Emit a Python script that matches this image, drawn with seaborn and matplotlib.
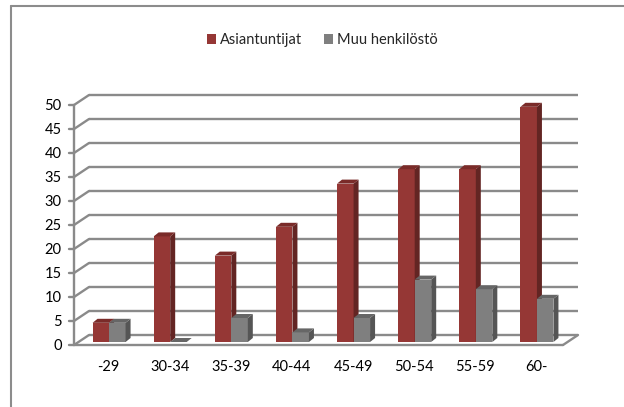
import matplotlib
matplotlib.use("Agg")
import matplotlib.pyplot as plt
import matplotlib.transforms as mtransforms
from matplotlib.patches import Polygon, Rectangle
import seaborn as sns
import pandas as pd

# Age groups and headcounts per staff group
age_groups = ["-29", "30-34", "35-39", "40-44", "45-49", "50-54", "55-59", "60-"]
asiantuntijat = [4, 22, 18, 24, 33, 36, 36, 49]
muu_henkilosto = [4, 0, 5, 2, 5, 13, 11, 9]
series_names = ["Asiantuntijat", "Muu henkilöstö"]
y_ticks = list(range(0, 55, 5))

front_colors = ["#953735", "#7f7f7f"]
side_colors = ["#632523", "#555555"]
top_colors = ["#7a2b29", "#666666"]
grid_color = "#8a8a8a"

df = pd.DataFrame({
    "Ikä": age_groups * 2,
    "Määrä": asiantuntijat + muu_henkilosto,
    "Ryhmä": [series_names[0]] * len(age_groups) + [series_names[1]] * len(age_groups),
})

sns.set_theme(style="white")
plt.rcParams["font.family"] = ["Lato", "DejaVu Sans"]

W, H, DPI = 624, 407, 100
fig = plt.figure(figsize=(W / DPI, H / DPI), dpi=DPI)

# front plane of the plot box, in pixels
left_px, right_px = 74, 563
bottom_px, top_px = 345, 105
ax = fig.add_axes([left_px / W, (H - bottom_px) / H,
                   (right_px - left_px) / W, (bottom_px - top_px) / H])

sns.barplot(data=df, x="Ikä", y="Määrä", hue="Ryhmä", order=age_groups,
            hue_order=series_names, palette=front_colors, saturation=1,
            width=0.54, gap=0, edgecolor="none", linewidth=0,
            legend=False, ax=ax, zorder=3)

ax.set_xlim(-0.5, len(age_groups) - 0.5)
ax.set_ylim(0, 50)
for s in ax.spines.values():
    s.set_visible(False)
ax.set_xlabel("")
ax.set_ylabel("")
ax.grid(False)

# pixel -> data scale
px_x = (len(age_groups)) / (right_px - left_px)
px_y = 50 / (bottom_px - top_px)

# depth of the box (back wall offset) and of the bars
wall_dx, wall_dy = 15 * px_x, 10 * px_y
bar_shift_dx, bar_shift_dy = 4.5 * px_x, 3 * px_y
bar_dx, bar_dy = 5 * px_x, 4 * px_y

x0, x1 = -0.5, len(age_groups) - 0.5
lw = 1.7
# back wall gridlines and left side wall
for v in y_ticks:
    ax.plot([x0 + wall_dx, x1 + wall_dx], [v + wall_dy, v + wall_dy],
            color=grid_color, lw=lw, clip_on=False, zorder=1, solid_capstyle="butt")
    ax.plot([x0, x0 + wall_dx], [v, v + wall_dy],
            color=grid_color, lw=lw, clip_on=False, zorder=1)
    ax.plot([x0 - 5 * px_x, x0], [v, v], color=grid_color, lw=lw,
            clip_on=False, zorder=1)
# front value axis and floor outline
ax.plot([x0, x0], [0, 50], color=grid_color, lw=lw, clip_on=False, zorder=1)
ax.plot([x0, x1], [0, 0], color=grid_color, lw=lw, clip_on=False, zorder=2)
ax.plot([x1, x1 + wall_dx], [0, wall_dy], color=grid_color, lw=lw,
        clip_on=False, zorder=2)

# extrude the bars into pseudo 3D columns
for k, cont in enumerate(ax.containers):
    for p in cont.patches:
        x = p.get_x() + bar_shift_dx
        w = p.get_width()
        h = p.get_height()
        b = bar_shift_dy
        p.set_x(x)
        p.set_y(b)
        z = 4 + k
        p.set_zorder(z)
        side = Polygon([(x + w, b), (x + w + bar_dx, b + bar_dy),
                        (x + w + bar_dx, b + h + bar_dy), (x + w, b + h)],
                       closed=True, facecolor=side_colors[k], edgecolor="none",
                       zorder=z, clip_on=False)
        top = Polygon([(x, b + h), (x + bar_dx, b + h + bar_dy),
                       (x + w + bar_dx, b + h + bar_dy), (x + w, b + h)],
                      closed=True, facecolor=top_colors[k], edgecolor="none",
                      zorder=z, clip_on=False)
        ax.add_patch(side)
        ax.add_patch(top)
        p.set_clip_on(False)

# axis labels
fs = 10.5
ax.set_yticks(y_ticks)
ax.set_yticklabels([str(v) for v in y_ticks], fontsize=fs, color="#000000")
ax.tick_params(axis="y", length=0, pad=9)
ax.set_xticks(range(len(age_groups)))
ax.set_xticklabels(age_groups, fontsize=fs, color="#000000")
ax.tick_params(axis="x", length=0, pad=10.5)
shift = mtransforms.ScaledTranslation(4 / DPI, 0, fig.dpi_scale_trans)
for lab in ax.get_xticklabels():
    lab.set_transform(lab.get_transform() + shift)

# legend
handles = [Rectangle((0, 0), 1, 1, facecolor=c, edgecolor="none") for c in front_colors]
fig.legend(handles, series_names, loc="center", bbox_to_anchor=(322 / W, 1 - 40 / H),
           ncol=2, frameon=False, fontsize=fs, handlelength=0.65, handleheight=0.65,
           handletextpad=0.25, columnspacing=1.5)

# chart frame
fig.add_artist(plt.Line2D([11 / W, 1], [1 - 6 / H, 1 - 6 / H], color="#8c8c8c",
                          lw=1.5, transform=fig.transFigure))
fig.add_artist(plt.Line2D([11 / W, 11 / W], [0, 1 - 6 / H], color="#8c8c8c",
                          lw=1.5, transform=fig.transFigure))

fig.savefig("out.png", dpi=DPI)
